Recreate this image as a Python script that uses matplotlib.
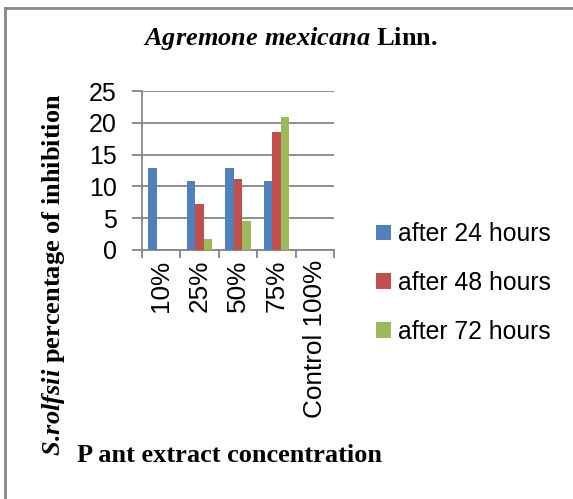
import matplotlib.pyplot as plt
import numpy as np
from matplotlib.lines import Line2D

plt.rcParams['mathtext.fontset'] = 'custom'
plt.rcParams['mathtext.it'] = 'Liberation Serif:italic:bold'
plt.rcParams['mathtext.rm'] = 'Liberation Serif:bold'

# 数据
concentrations = ['10%', '25%', '50%', '75%', 'Control 100%']
after_24 = [12.9, 10.8, 12.9, 10.8, 0]
after_48 = [0, 7.2, 11.2, 18.5, 0]
after_72 = [0, 1.7, 4.6, 20.9, 0]
series_names = ['after 24 hours', 'after 48 hours', 'after 72 hours']
colors = ['#4F81BD', '#C0504D', '#9BBB59']
grid_col = '#868686'

fig = plt.figure(figsize=(5.73, 4.99), dpi=100)
ax = fig.add_axes([0.2473, 0.499, 0.3356, 0.3186])

x = np.arange(len(concentrations))
w = 0.222
for i, vals in enumerate([after_24, after_48, after_72]):
    ax.bar(x + (i - 1) * w, vals, w, color=colors[i], label=series_names[i], zorder=3)

ax.set_xlim(-0.5, len(concentrations) - 0.5)
ax.set_ylim(0, 25)
ax.set_yticks(np.arange(0, 26, 5))
ax.yaxis.grid(True, color=grid_col, lw=1.3, zorder=0)
ax.set_axisbelow(True)

# 类别边界刻度，标签放在类别中心
ax.set_xticks(np.arange(-0.5, len(concentrations), 1))
ax.set_xticklabels([])
ax.set_xticks(x, minor=True)
ax.set_xticklabels(concentrations, minor=True, rotation=90, va='top', ha='center',
                   family='Liberation Sans', fontsize=18.8)
ax.tick_params(axis='x', which='major', length=6, width=1.3, color=grid_col)
ax.tick_params(axis='x', which='minor', length=0, pad=7)
ax.tick_params(axis='y', length=7, width=1.3, color=grid_col, pad=11)
for lab in ax.get_yticklabels():
    lab.set_family('Liberation Sans')
    lab.set_fontsize(18)

for s in ['top', 'right']:
    ax.spines[s].set_visible(False)
for s in ['left', 'bottom']:
    ax.spines[s].set_color(grid_col)
    ax.spines[s].set_linewidth(1.3)

fig.text(290 / 573, 1 - 38 / 499, r'$\mathit{Agremone\ mexicana}$ Linn.',
         ha='center', va='center', family='Liberation Serif', weight='bold', fontsize=19)
fig.text(54 / 573, 1 - 275 / 499, r'$\mathit{S.\!rolfsii}$ percentage of inhibition',
         rotation=90, ha='center', va='center', family='Liberation Serif', weight='bold',
         fontsize=19)
fig.text(77 / 573, 1 - 455 / 499, 'P ant extract concentration',
         ha='left', va='center', family='Liberation Serif', weight='bold', fontsize=19)

fig.legend(loc='center left', bbox_to_anchor=(376 / 573, 1 - 283 / 499), frameon=False,
           prop={'family': 'Liberation Sans', 'size': 17.8}, borderpad=0, borderaxespad=0,
           handlelength=0.6, handleheight=0.6, handletextpad=0.28, labelspacing=1.0)

# 外框
fig.add_artist(Line2D([5 / 573, 1], [1 - 7.5 / 499, 1 - 7.5 / 499], color='#888888', lw=2,
                      transform=fig.transFigure))
fig.add_artist(Line2D([5 / 573, 5 / 573], [0, 1 - 7.5 / 499], color='#888888', lw=2,
                      transform=fig.transFigure))

fig.savefig('out.png', dpi=100)
